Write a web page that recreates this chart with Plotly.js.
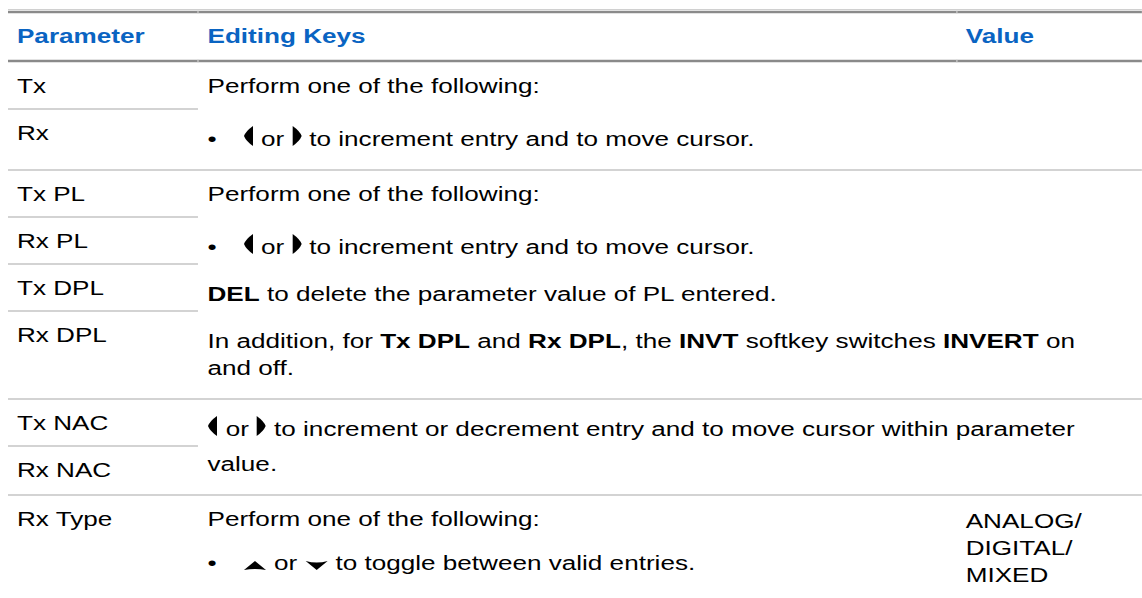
<!DOCTYPE html>
<html><head><meta charset="utf-8">
<script src="https://cdn.plot.ly/plotly-3.0.1.min.js"></script>
<style>html,body{margin:0;padding:0;background:#fff;overflow:hidden}#chart{transform-origin:0 0;}</style>
</head><body><div id="chart"></div>
<script>
// ---- table content ----
const headers = ["Parameter", "Editing Keys", "Value"];
const paramGroups = [
  ["Tx", "Rx"],
  ["Tx PL", "Rx PL", "Tx DPL", "Rx DPL"],
  ["Tx NAC", "Rx NAC"],
  ["Rx Type"]
];
const editingKeys = [
  ["Perform one of the following:", "• [L] or [R] to increment entry and to move cursor."],
  ["Perform one of the following:", "• [L] or [R] to increment entry and to move cursor.",
   "<b>DEL</b> to delete the parameter value of PL entered.",
   "In addition, for <b>Tx DPL</b> and <b>Rx DPL</b>, the <b>INVT</b> softkey switches <b>INVERT</b> on\nand off."],
  ["[L] or [R] to increment or decrement entry and to move cursor within parameter\nvalue."],
  ["Perform one of the following:", "• [U] or [D] to toggle between valid entries."]
];
const valueTexts = ["", "", "", "ANALOG/\nDIGITAL/\nMIXED"];

// ---- layout / style ----
const W = 1142, H = 598, S = 1.305;
const FS = 20, FAMILY = '"Liberation Sans", Arial, sans-serif';
const BLUE = '#0a64c2', THICK = '#8a8a8a', THIN = '#a8a8a8';
const colLeft = [8, 198, 957], PAD = 9, BULLET_INDENT = 243;
const HEADER_Y = 36, TOP_LINE = 12, HEADER_LINE = 61, FIRST_TOP = 62;
const ROW_H = 47, PARA_GAP = 47, TALL_SHIFT = 6, FLAT_SHIFT = -3, WRAP_GAP = 27, ICON_WRAP_GAP = 35;
const FIRST_OFF = 24, PARAM_OFF = 24, BOTTOM_PAD = 31;

const cv = document.createElement('canvas').getContext('2d');
function measure(t, bold) {
  cv.font = (bold ? 'bold ' : '') + FS + 'px "Liberation Sans"';
  return cv.measureText(t.replace(/<\/?b>/g, '')).width * S;
}
const annotations = [], shapes = [];
function txt(t, x, y, opts) {
  annotations.push(Object.assign({
    text: t, x: x, y: y, xref: 'x', yref: 'y', xanchor: 'left', yanchor: 'middle',
    showarrow: false, borderpad: 0, borderwidth: 0, align: 'left',
    font: {family: FAMILY, size: FS, color: '#000'}
  }, opts || {}));
}
function hline(y, x0, x1, color, w) {
  shapes.push({type: 'line', xref: 'x', yref: 'y', x0: x0, x1: x1, y0: y, y1: y, line: {color: color, width: w}});
}
function icon(kind, x, yb) {
  let p;
  if (kind === 'L') p = `M${x+9},${yb-20} Q${x+2},${yb-15} ${x},${yb-10} Q${x+2},${yb-5} ${x+9},${yb} Z`;
  else if (kind === 'R') p = `M${x},${yb-20} Q${x+7},${yb-15} ${x+9},${yb-10} Q${x+7},${yb-5} ${x},${yb} Z`;
  else if (kind === 'U') p = `M${x},${yb} L${x+11},${yb-9} L${x+22},${yb} Q${x+11},${yb-2} ${x},${yb} Z`;
  else p = `M${x},${yb-9} Q${x+11},${yb-6} ${x+22},${yb-9} L${x+11},${yb} Z`;
  shapes.push({type: 'path', xref: 'x', yref: 'y', path: p, fillcolor: '#000', line: {width: 0}});
  return (kind === 'L' || kind === 'R') ? 9 : 22;
}
const hasIcon = s => /\[[LRUD]\]/.test(s);
const hasTallIcon = s => /\[[LR]\]/.test(s);
const hasFlatIcon = s => /\[[UD]\]/.test(s);
function renderLine(line, x, y) {
  let cur = x;
  if (line.startsWith('• ')) { txt('•', x, y); cur = BULLET_INDENT; line = line.slice(2); }
  const spaceW = measure(' ', false);
  line.split(/(\[[LRUD]\])/).forEach(tok => {
    if (!tok) return;
    const m = tok.match(/^\[([LRUD])\]$/);
    if (m) { cur += 1; cur += icon(m[1], cur, y + 7); cur += 1; return; }
    const lead = tok.match(/^ */)[0].length, trail = tok.match(/ *$/)[0].length;
    cur += lead * spaceW;
    const t = tok.trim();
    if (t) { txt(t, cur, y); cur += measure(t, false); }
    cur += trail * spaceW;
  });
}

// header
hline(9.5, colLeft[0], W, '#d0d0d0', 1);
hline(TOP_LINE, colLeft[0], W, THICK, 2.5);
headers.forEach((h, i) => txt('<b>' + h + '</b>', colLeft[i] + PAD, HEADER_Y, {font: {family: FAMILY, size: FS, color: BLUE}}));
hline(HEADER_LINE, colLeft[0], W, THICK, 2.5);

let groupTop = FIRST_TOP;
paramGroups.forEach((params, g) => {
  params.forEach((p, i) => {
    txt(p, colLeft[0] + PAD, groupTop + PARAM_OFF + ROW_H * i);
    if (i > 0) hline(groupTop + ROW_H * i, colLeft[0], colLeft[1], THIN, 1.2);
  });
  let bottom = groupTop + ROW_H * params.length;
  let y = groupTop + FIRST_OFF, last = y;
  editingKeys[g].forEach((para, k) => {
    const lines = para.split('\n');
    if (k > 0) y += PARA_GAP;
    if (hasTallIcon(lines[0])) y += TALL_SHIFT;
    else if (hasFlatIcon(lines[0])) y += FLAT_SHIFT;
    lines.forEach((ln, j) => {
      renderLine(ln, colLeft[1] + PAD, y);
      last = y;
      if (j < lines.length - 1) y += hasIcon(ln) ? ICON_WRAP_GAP : WRAP_GAP;
    });
  });
  bottom = Math.max(bottom, last + BOTTOM_PAD);
  if (valueTexts[g]) valueTexts[g].split('\n').forEach((v, k) => {
    txt(v, colLeft[2] + PAD, groupTop + FIRST_OFF + 2 + WRAP_GAP * k);
  });
  if (g < paramGroups.length - 1) hline(bottom, colLeft[0], W, THIN, 1.2);
  groupTop = bottom;
});
// column joints on thick rules
[colLeft[1], colLeft[2]].forEach(x => {
  [TOP_LINE, HEADER_LINE].forEach(yl => shapes.push({type: 'line', xref: 'x', yref: 'y', x0: x, x1: x, y0: yl - 1.3, y1: yl + 1.3, line: {color: '#c8c8c8', width: 1}}));
});

const el = document.getElementById('chart');
el.style.transform = 'scaleX(' + S + ')';
Plotly.newPlot(el, [{x: [0, W], y: [0, H], mode: 'markers', marker: {opacity: 0}, hoverinfo: 'skip', showlegend: false}], {
  width: W / S, height: H, margin: {l: 0, r: 0, t: 0, b: 0, pad: 0},
  paper_bgcolor: '#fff', plot_bgcolor: '#fff', showlegend: false,
  xaxis: {range: [0, W], visible: false, fixedrange: true},
  yaxis: {range: [H, 0], visible: false, fixedrange: true},
  annotations: annotations, shapes: shapes
}, {staticPlot: true, displayModeBar: false});
</script></body></html>
